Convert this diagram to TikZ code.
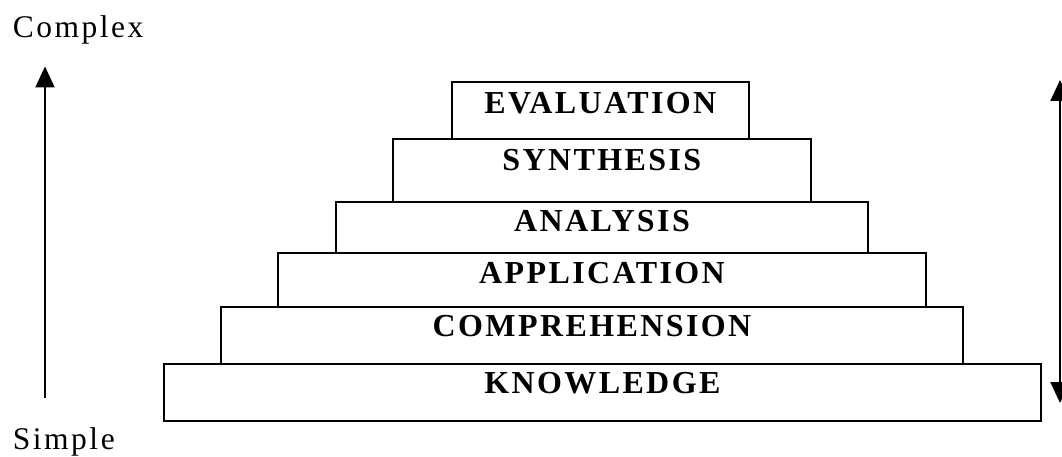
\documentclass[tikz,border=0pt]{standalone}
\usepackage{fontspec}
\setmainfont{Liberation Serif}
\newfontfamily\levelfont[LetterSpace=7.5]{Liberation Serif}
\newfontfamily\endfont[LetterSpace=8]{Liberation Serif}
\usetikzlibrary{arrows.meta}
\begin{document}
\begin{tikzpicture}[x=1pt,y=-1pt,
  level/.style={draw=black, line width=2pt, inner sep=0pt, rectangle},
  levellabel/.style={font=\fontsize{32}{32}\selectfont\levelfont\bfseries, inner sep=0pt, anchor=base},
  endlabel/.style={font=\fontsize{31.5}{31.5}\selectfont\endfont, inner sep=0pt, anchor=base west},
  scale arrow/.style={line width=2pt, -{Triangle[length=21pt,width=19pt]}},
  span arrow/.style={line width=2pt, {Triangle[length=21pt,width=19pt]}-{Triangle[length=21pt,width=19pt]}}]
  \useasboundingbox (0,0) rectangle (1062,457);

  % levels of the staircase, top to bottom
  \node[level, minimum width=297.3pt, minimum height=57pt]   (eval) at (600.35,110.8) {};
  \node[level, minimum width=418.3pt, minimum height=62.2pt] (synt) at (601.85,170.4) {};
  \node[level, minimum width=532.6pt, minimum height=51.5pt] (anal) at (602,227.25) {};
  \node[level, minimum width=647.4pt, minimum height=54pt]   (appl) at (602,280) {};
  \node[level, minimum width=742.6pt, minimum height=57.3pt] (comp) at (592,335.65) {};
  \node[level, minimum width=876.7pt, minimum height=57pt]   (know) at (602.35,392.5) {};

  \node[levellabel] (evalt) at (600.35,114)  {EVALUATION};
  \node[levellabel] (syntt) at (601.85,170.7) {SYNTHESIS};
  \node[levellabel] (analt) at (602,231.7)  {ANALYSIS};
  \node[levellabel] (applt) at (602,283.3)  {APPLICATION};
  \node[levellabel] (compt) at (592,336.7)  {COMPREHENSION};
  \node[levellabel] (knowt) at (602.35,393.5) {KNOWLEDGE};

  % complexity scale on the left
  \node[endlabel] (complex) at (12.7,37.7)  {Complex};
  \node[endlabel] (simple)  at (12.7,449.5) {Simple};
  \coordinate (lowend)  at (45,398);
  \coordinate (highend) at (45,66.5);
  \draw[scale arrow] (lowend) -- (highend);

  % range arrow on the right
  \coordinate (rtop) at (1060,80);
  \coordinate (rbot) at (1060,403);
  \draw[span arrow] (rtop) -- (rbot);
\end{tikzpicture}
\end{document}
